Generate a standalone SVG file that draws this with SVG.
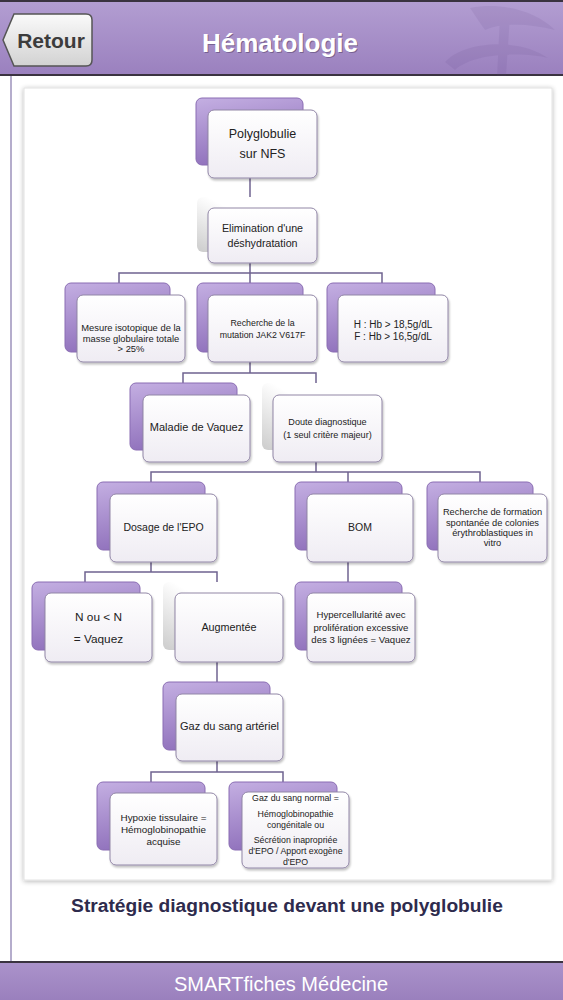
<svg xmlns="http://www.w3.org/2000/svg" width="563" height="1000" viewBox="0 0 563 1000">
<defs>
<linearGradient id="hdr" x1="0" y1="0" x2="0" y2="1"><stop offset="0" stop-color="#b39ed2"/><stop offset="1" stop-color="#9a80be"/></linearGradient>
<linearGradient id="ftr" x1="0" y1="0" x2="0" y2="1"><stop offset="0" stop-color="#ab93cb"/><stop offset="1" stop-color="#9a80bd"/></linearGradient>
<linearGradient id="btn" x1="0" y1="0" x2="0" y2="1"><stop offset="0" stop-color="#fafafa"/><stop offset="1" stop-color="#d2d2d2"/></linearGradient>
<linearGradient id="gp" x1="0" y1="0" x2="0.3" y2="1"><stop offset="0" stop-color="#c4afe2"/><stop offset="1" stop-color="#8f70bb"/></linearGradient>
<linearGradient id="gw" x1="0" y1="1" x2="1" y2="0"><stop offset="0" stop-color="#cccccc"/><stop offset="0.55" stop-color="#ffffff"/></linearGradient>
<linearGradient id="gf" x1="0" y1="0" x2="0" y2="1"><stop offset="0" stop-color="#ffffff"/><stop offset="1" stop-color="#efecf3"/></linearGradient>
<filter id="sh" x="-5%" y="-5%" width="110%" height="110%"><feGaussianBlur in="SourceAlpha" stdDeviation="2.5"/><feOffset dx="0" dy="1"/><feComponentTransfer><feFuncA type="linear" slope="0.3"/></feComponentTransfer><feMerge><feMergeNode/><feMergeNode in="SourceGraphic"/></feMerge></filter>
<filter id="fs" x="-10%" y="-10%" width="125%" height="125%"><feGaussianBlur in="SourceAlpha" stdDeviation="1.2"/><feOffset dx="1" dy="1.5"/><feComponentTransfer><feFuncA type="linear" slope="0.25"/></feComponentTransfer><feMerge><feMergeNode/><feMergeNode in="SourceGraphic"/></feMerge></filter>
</defs>
<style>
.bp{fill:url(#gp);stroke:#8a6db3;stroke-width:1}
.bw{fill:url(#gw);stroke:none}
.fr{fill:url(#gf);stroke:#9186a6;stroke-width:1;filter:url(#fs)}
.t{font-family:"Liberation Sans",Arial,sans-serif;fill:#222;text-anchor:middle}
.c{fill:none;stroke:#6f6390;stroke-width:1.5}
</style>
<rect x="0" y="0" width="563" height="1000" fill="#ffffff"/>
<g id="header">
<rect x="0" y="0" width="563" height="76" fill="url(#hdr)"/>
<rect x="0" y="0" width="563" height="2" fill="#3a3340"/>
<rect x="0" y="74" width="563" height="2" fill="#3a3340"/>
<g opacity="0.1" fill="#5a3f80">
<path d="M470,8 C500,2 535,10 555,30 C530,24 505,22 485,30 C478,20 474,14 470,8 Z"/>
<path d="M500,16 L510,16 L506,76 L497,76 Z"/>
<path d="M445,62 C465,40 520,38 548,58 C525,52 475,52 455,70 Z"/>
</g>
<path d="M14,14 L86,14 Q92,14 92,20 L92,60 Q92,66 86,66 L14,66 L3,40 Z" fill="url(#btn)" stroke="#555" stroke-width="1.5"/>
<text x="51" y="48" font-family="'Liberation Sans',Arial,sans-serif" font-size="21" font-weight="bold" fill="#3c3c3c" text-anchor="middle">Retour</text>
<text x="281" y="53" font-family="'Liberation Sans',Arial,sans-serif" font-size="26" font-weight="bold" fill="#4a3a60" text-anchor="middle" opacity="0.5">Hématologie</text>
<text x="280" y="52" font-family="'Liberation Sans',Arial,sans-serif" font-size="26" font-weight="bold" fill="#ffffff" text-anchor="middle">Hématologie</text>
</g>
<line x1="11" y1="76" x2="11" y2="962" stroke="#b5adcc" stroke-width="2"/>
<rect x="24" y="88" width="528" height="792" fill="#ffffff" stroke="#e2e2e2" stroke-width="1" filter="url(#sh)"/>
<g id="connectors">
<path class="c" d="M250,178 V197"/>
<path class="c" d="M250,263 V273 M119,283 V273 H382 V283 M250,273 V283"/>
<path class="c" d="M250,362 V373 M183,383 V373 H316 V383"/>
<path class="c" d="M316,462 V472 M151,482 V472 H480 V482 M348,472 V482"/>
<path class="c" d="M151,562 V572 M85,582 V572 H217 V582"/>
<path class="c" d="M348,562 V582"/>
<path class="c" d="M217,662 V682"/>
<path class="c" d="M217,761 V772 M151,782 V772 H283 V782"/>
</g>
<g id="n1">
<rect class="bp" x="196" y="98" width="107" height="67" rx="6"/>
<rect class="fr" x="208" y="110" width="109" height="68" rx="6"/>
<text class="t" font-size="12.5"><tspan x="262.5" y="137.5">Polyglobulie</tspan><tspan x="262.5" y="157.5">sur NFS</tspan></text>
</g>
<g id="n2">
<rect class="bw" x="197" y="197" width="106" height="55" rx="6"/>
<rect class="fr" x="208" y="208" width="109" height="55" rx="6"/>
<text class="t" font-size="10.7"><tspan x="262.5" y="232">Elimination d'une</tspan><tspan x="262.5" y="247">déshydratation</tspan></text>
</g>
<g id="n3a">
<rect class="bp" x="65" y="283" width="105" height="69" rx="6"/>
<rect class="fr" x="77" y="295" width="108" height="67" rx="6"/>
<text class="t" font-size="9.4"><tspan x="131" y="330.5">Mesure isotopique de la</tspan><tspan x="131" y="341.5">masse globulaire totale</tspan><tspan x="131" y="351.5">&gt; 25%</tspan></text>
</g>
<g id="n3b">
<rect class="bp" x="197" y="283" width="106" height="69" rx="6"/>
<rect class="fr" x="208" y="295" width="109" height="67" rx="6"/>
<text class="t" font-size="8.8"><tspan x="262.5" y="326">Recherche de la</tspan><tspan x="262.5" y="338">mutation JAK2 V617F</tspan></text>
</g>
<g id="n3c">
<rect class="bp" x="327" y="283" width="108" height="69" rx="6"/>
<rect class="fr" x="338" y="295" width="110" height="67" rx="6"/>
<text class="t" font-size="10"><tspan x="393" y="327.5">H : Hb &gt; 18,5g/dL</tspan><tspan x="393" y="339.5">F : Hb &gt; 16,5g/dL</tspan></text>
</g>
<g id="n4a">
<rect class="bp" x="130" y="383" width="107" height="67" rx="6"/>
<rect class="fr" x="143" y="395" width="107" height="67" rx="6"/>
<text class="t" font-size="11" x="196.5" y="431">Maladie de Vaquez</text>
</g>
<g id="n4b">
<rect class="bw" x="262" y="383" width="108" height="67" rx="6"/>
<rect class="fr" x="273" y="395" width="109" height="67" rx="6"/>
<text class="t" font-size="9.1"><tspan x="327.5" y="425">Doute diagnostique</tspan><tspan x="327.5" y="438">(1 seul critère majeur)</tspan></text>
</g>
<g id="n5a">
<rect class="bp" x="97" y="482" width="108" height="68" rx="6"/>
<rect class="fr" x="110" y="494" width="107" height="68" rx="6"/>
<text class="t" font-size="10.5" x="163.5" y="531">Dosage de l'EPO</text>
</g>
<g id="n5b">
<rect class="bp" x="295" y="482" width="107" height="68" rx="6"/>
<rect class="fr" x="307" y="494" width="106" height="68" rx="6"/>
<text class="t" font-size="10.5" x="360" y="531">BOM</text>
</g>
<g id="n5c">
<rect class="bp" x="427" y="482" width="106" height="68" rx="6"/>
<rect class="fr" x="438" y="494" width="109" height="68" rx="6"/>
<text class="t" font-size="9.3"><tspan x="492.5" y="515.3">Recherche de formation</tspan><tspan x="492.5" y="526.3">spontanée de colonies</tspan><tspan x="492.5" y="536.3">érythroblastiques in</tspan><tspan x="492.5" y="546.3">vitro</tspan></text>
</g>
<g id="n6a">
<rect class="bp" x="32" y="582" width="108" height="68" rx="6"/>
<rect class="fr" x="45" y="593" width="107" height="69" rx="6"/>
<text class="t" font-size="11.8"><tspan x="98.5" y="621">N ou &lt; N</tspan><tspan x="98.5" y="643">= Vaquez</tspan></text>
</g>
<g id="n6b">
<rect class="bw" x="163" y="582" width="107" height="68" rx="6"/>
<rect class="fr" x="175" y="593" width="108" height="69" rx="6"/>
<text class="t" font-size="10.8" x="229" y="631">Augmentée</text>
</g>
<g id="n6c">
<rect class="bp" x="295" y="582" width="107" height="68" rx="6"/>
<rect class="fr" x="307" y="593" width="108" height="69" rx="6"/>
<text class="t" font-size="9.6"><tspan x="361" y="618.3">Hypercellularité avec</tspan><tspan x="361" y="631.3">prolifération excessive</tspan><tspan x="361" y="643.3">des 3 lignées = Vaquez</tspan></text>
</g>
<g id="n7">
<rect class="bp" x="163" y="682" width="107" height="68" rx="6"/>
<rect class="fr" x="176" y="694" width="107" height="67" rx="6"/>
<text class="t" font-size="11" x="229.5" y="730">Gaz du sang artériel</text>
</g>
<g id="n8a">
<rect class="bp" x="97" y="782" width="108" height="68" rx="6"/>
<rect class="fr" x="110" y="793" width="107" height="72" rx="6"/>
<text class="t" font-size="9.9"><tspan x="163.5" y="820.5">Hypoxie tissulaire =</tspan><tspan x="163.5" y="832.5">Hémoglobinopathie</tspan><tspan x="163.5" y="844.5">acquise</tspan></text>
</g>
<g id="n8b">
<rect class="bp" x="229" y="782" width="108" height="68" rx="6"/>
<rect class="fr" x="242" y="792" width="107" height="76" rx="6"/>
<text class="t" font-size="8.8"><tspan x="295.5" y="801">Gaz du sang normal =</tspan><tspan x="295.5" y="817">Hémoglobinopathie</tspan><tspan x="295.5" y="828">congénitale ou</tspan><tspan x="295.5" y="843">Sécrétion inapropriée</tspan><tspan x="295.5" y="854">d'EPO / Apport exogène</tspan><tspan x="295.5" y="865">d'EPO</tspan></text>
</g>
<text x="287" y="912" font-family="'Liberation Sans',Arial,sans-serif" font-size="19.2" font-weight="bold" fill="#2e2b4d" text-anchor="middle">Stratégie diagnostique devant une polyglobulie</text>
<g id="footer">
<rect x="0" y="962" width="563" height="38" fill="url(#ftr)"/>
<rect x="0" y="961" width="563" height="2" fill="#3a3340"/>
<text x="281" y="991" font-family="'Liberation Sans',Arial,sans-serif" font-size="20" fill="#ffffff" text-anchor="middle">SMARTfiches Médecine</text>
</g>
</svg>
